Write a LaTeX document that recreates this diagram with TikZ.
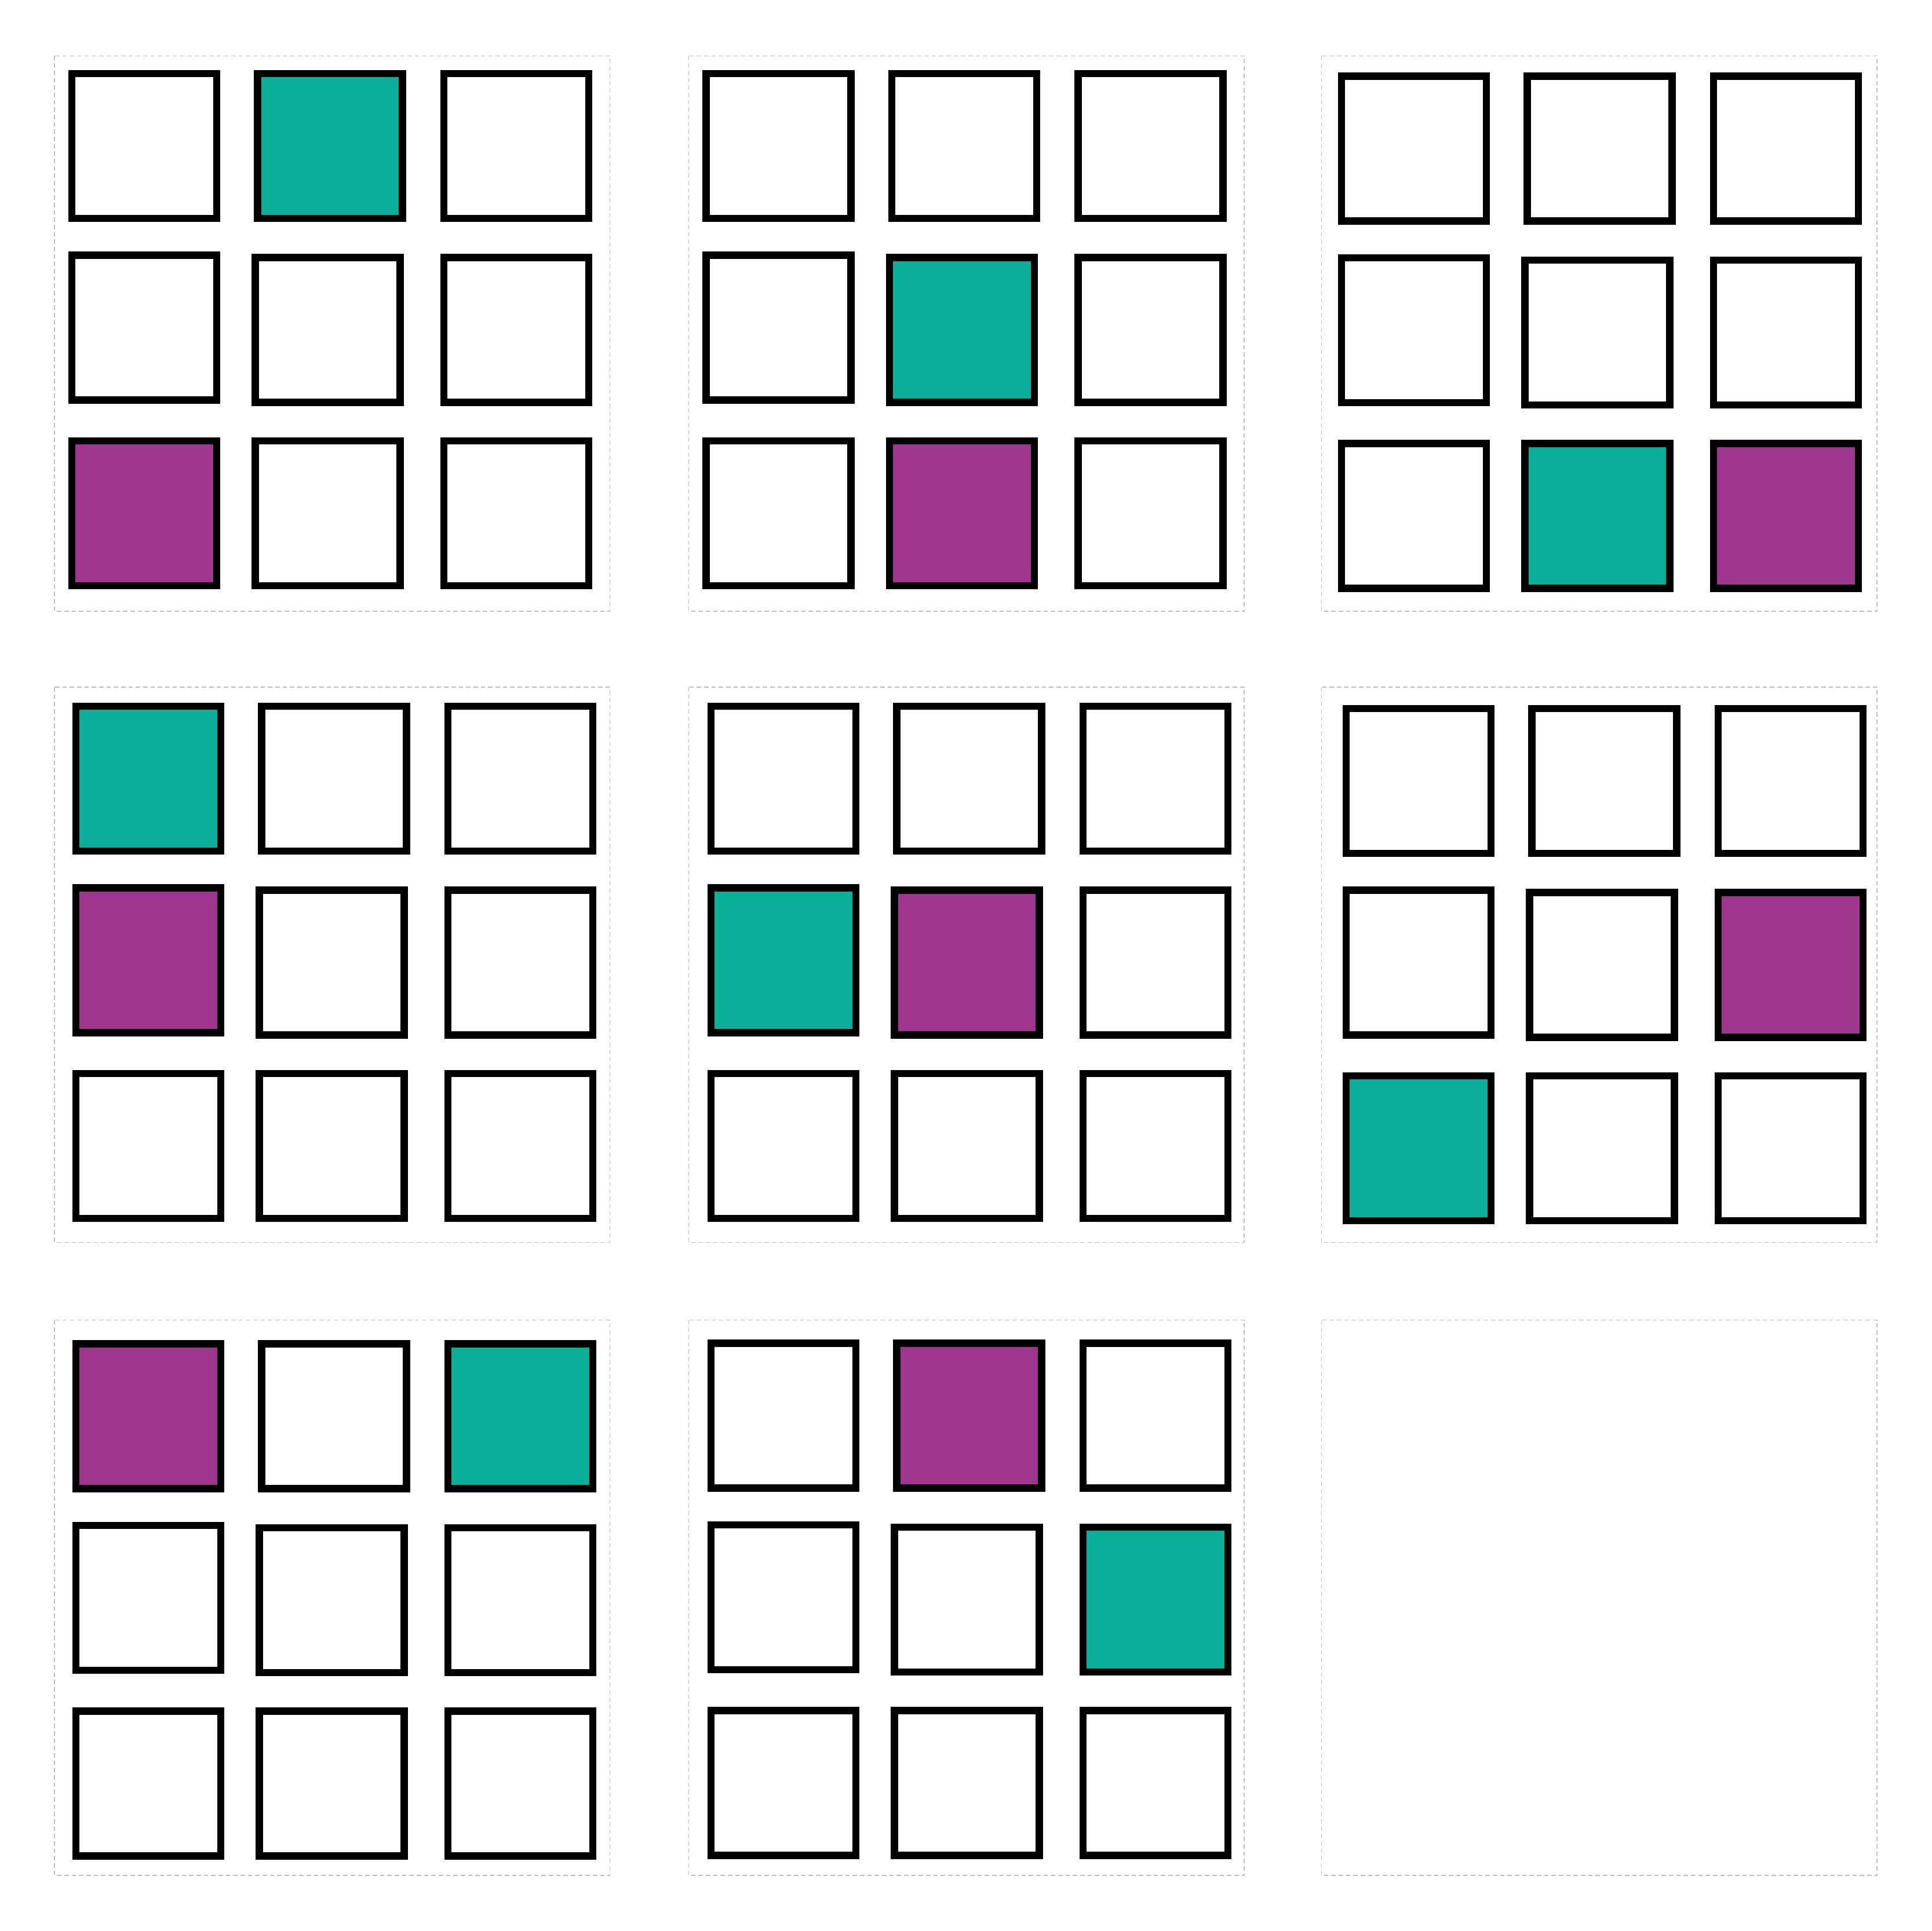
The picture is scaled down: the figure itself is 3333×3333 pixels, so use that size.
\documentclass[tikz,border=0pt]{standalone}
\usepackage{tikz}

\tikzset{every picture/.style={line width=0.75pt}}
\tikzset{
  panelbox/.style={color={rgb, 255:red, 190; green, 190; blue, 190 }, line width=1pt, dash pattern=on 5.75pt off 3.75pt},
  cell/.style={color={rgb, 255:red, 0; green, 0; blue, 0 }, line width=9.2pt},
  tealcell/.style={cell, fill={rgb, 255:red, 9; green, 175; blue, 152 }},
  plumcell/.style={cell, fill={rgb, 255:red, 158; green, 53; blue, 142 }}
}

\begin{document}
\begin{tikzpicture}[x=0.75pt,y=0.75pt,yscale=-1,xscale=1]
        %set diagram left start at 0, and has height of 3333
        \useasboundingbox (0,0) rectangle (3333,3333);

        %Shape: Rectangle [id:dp0412] 
        \draw  [panelbox] (94,96.5) rectangle ++(958.5,958.5) ;
        %Shape: Rectangle [id:dp0413] 
        \draw  [panelbox] (1188.5,96.5) rectangle ++(958.5,958.5) ;
        %Shape: Rectangle [id:dp0414] 
        \draw  [panelbox] (2280.5,96.5) rectangle ++(958.5,958.5) ;
        %Shape: Rectangle [id:dp0415] 
        \draw  [panelbox] (94,1186) rectangle ++(958.5,958.5) ;
        %Shape: Rectangle [id:dp0416] 
        \draw  [panelbox] (1188.5,1186) rectangle ++(958.5,958.5) ;
        %Shape: Rectangle [id:dp0417] 
        \draw  [panelbox] (2280.5,1186) rectangle ++(958.5,958.5) ;
        %Shape: Rectangle [id:dp0418] 
        \draw  [panelbox] (94,2278.5) rectangle ++(958.5,958.5) ;
        %Shape: Rectangle [id:dp0419] 
        \draw  [panelbox] (1188.5,2278.5) rectangle ++(958.5,958.5) ;
        %Shape: Rectangle [id:dp0420] 
        \draw  [panelbox] (2280.5,2278.5) rectangle ++(958.5,958.5) ;

        %Shape: Square [id:dp1101] 
        \draw  [cell] (124,127) rectangle ++(250,250) ;
        %Shape: Square [id:dp1102] 
        \draw  [tealcell] (444.5,127) rectangle ++(250,250) ;
        %Shape: Square [id:dp1103] 
        \draw  [cell] (766,127) rectangle ++(250,250) ;
        %Shape: Square [id:dp1104] 
        \draw  [cell] (124,440.5) rectangle ++(250,250) ;
        %Shape: Square [id:dp1105] 
        \draw  [cell] (440.5,444.5) rectangle ++(250,250) ;
        %Shape: Square [id:dp1106] 
        \draw  [cell] (766,444.5) rectangle ++(250,250) ;
        %Shape: Square [id:dp1107] 
        \draw  [plumcell] (124,761) rectangle ++(250,250) ;
        %Shape: Square [id:dp1108] 
        \draw  [cell] (440.5,761) rectangle ++(250,250) ;
        %Shape: Square [id:dp1109] 
        \draw  [cell] (766,761) rectangle ++(250,250) ;

        %Shape: Square [id:dp1201] 
        \draw  [cell] (1218.5,127) rectangle ++(250,250) ;
        %Shape: Square [id:dp1202] 
        \draw  [cell] (1539,127) rectangle ++(250,250) ;
        %Shape: Square [id:dp1203] 
        \draw  [cell] (1860.5,127) rectangle ++(250,250) ;
        %Shape: Square [id:dp1204] 
        \draw  [cell] (1218.5,440.5) rectangle ++(250,250) ;
        %Shape: Square [id:dp1205] 
        \draw  [tealcell] (1535,444.5) rectangle ++(250,250) ;
        %Shape: Square [id:dp1206] 
        \draw  [cell] (1860.5,444.5) rectangle ++(250,250) ;
        %Shape: Square [id:dp1207] 
        \draw  [cell] (1218.5,761) rectangle ++(250,250) ;
        %Shape: Square [id:dp1208] 
        \draw  [plumcell] (1535,761) rectangle ++(250,250) ;
        %Shape: Square [id:dp1209] 
        \draw  [cell] (1860.5,761) rectangle ++(250,250) ;

        %Shape: Square [id:dp1301] 
        \draw  [cell] (2315,131.5) rectangle ++(250,250) ;
        %Shape: Square [id:dp1302] 
        \draw  [cell] (2635.5,131.5) rectangle ++(250,250) ;
        %Shape: Square [id:dp1303] 
        \draw  [cell] (2957,131.5) rectangle ++(250,250) ;
        %Shape: Square [id:dp1304] 
        \draw  [cell] (2315,445) rectangle ++(250,250) ;
        %Shape: Square [id:dp1305] 
        \draw  [cell] (2631.5,449) rectangle ++(250,250) ;
        %Shape: Square [id:dp1306] 
        \draw  [cell] (2957,449) rectangle ++(250,250) ;
        %Shape: Square [id:dp1307] 
        \draw  [cell] (2315,765.5) rectangle ++(250,250) ;
        %Shape: Square [id:dp1308] 
        \draw  [tealcell] (2631.5,765.5) rectangle ++(250,250) ;
        %Shape: Square [id:dp1309] 
        \draw  [plumcell] (2957,765.5) rectangle ++(250,250) ;

        %Shape: Square [id:dp2101] 
        \draw  [tealcell] (131,1219) rectangle ++(250,250) ;
        %Shape: Square [id:dp2102] 
        \draw  [cell] (451.5,1219) rectangle ++(250,250) ;
        %Shape: Square [id:dp2103] 
        \draw  [cell] (773,1219) rectangle ++(250,250) ;
        %Shape: Square [id:dp2104] 
        \draw  [plumcell] (131,1532.5) rectangle ++(250,250) ;
        %Shape: Square [id:dp2105] 
        \draw  [cell] (447.5,1536.5) rectangle ++(250,250) ;
        %Shape: Square [id:dp2106] 
        \draw  [cell] (773,1536.5) rectangle ++(250,250) ;
        %Shape: Square [id:dp2107] 
        \draw  [cell] (131,1853) rectangle ++(250,250) ;
        %Shape: Square [id:dp2108] 
        \draw  [cell] (447.5,1853) rectangle ++(250,250) ;
        %Shape: Square [id:dp2109] 
        \draw  [cell] (773,1853) rectangle ++(250,250) ;

        %Shape: Square [id:dp2201] 
        \draw  [cell] (1227,1219) rectangle ++(250,250) ;
        %Shape: Square [id:dp2202] 
        \draw  [cell] (1547.5,1219) rectangle ++(250,250) ;
        %Shape: Square [id:dp2203] 
        \draw  [cell] (1869,1219) rectangle ++(250,250) ;
        %Shape: Square [id:dp2204] 
        \draw  [tealcell] (1227,1532.5) rectangle ++(250,250) ;
        %Shape: Square [id:dp2205] 
        \draw  [plumcell] (1543.5,1536.5) rectangle ++(250,250) ;
        %Shape: Square [id:dp2206] 
        \draw  [cell] (1869,1536.5) rectangle ++(250,250) ;
        %Shape: Square [id:dp2207] 
        \draw  [cell] (1227,1853) rectangle ++(250,250) ;
        %Shape: Square [id:dp2208] 
        \draw  [cell] (1543.5,1853) rectangle ++(250,250) ;
        %Shape: Square [id:dp2209] 
        \draw  [cell] (1869,1853) rectangle ++(250,250) ;

        %Shape: Square [id:dp2301] 
        \draw  [cell] (2323,1223) rectangle ++(250,250) ;
        %Shape: Square [id:dp2302] 
        \draw  [cell] (2643.5,1223) rectangle ++(250,250) ;
        %Shape: Square [id:dp2303] 
        \draw  [cell] (2965,1223) rectangle ++(250,250) ;
        %Shape: Square [id:dp2304] 
        \draw  [cell] (2323,1536.5) rectangle ++(250,250) ;
        %Shape: Square [id:dp2305] 
        \draw  [cell] (2639.5,1540.5) rectangle ++(250,250) ;
        %Shape: Square [id:dp2306] 
        \draw  [plumcell] (2965,1540.5) rectangle ++(250,250) ;
        %Shape: Square [id:dp2307] 
        \draw  [tealcell] (2323,1857) rectangle ++(250,250) ;
        %Shape: Square [id:dp2308] 
        \draw  [cell] (2639.5,1857) rectangle ++(250,250) ;
        %Shape: Square [id:dp2309] 
        \draw  [cell] (2965,1857) rectangle ++(250,250) ;

        %Shape: Square [id:dp3101] 
        \draw  [plumcell] (131,2319.5) rectangle ++(250,250) ;
        %Shape: Square [id:dp3102] 
        \draw  [cell] (451.5,2319.5) rectangle ++(250,250) ;
        %Shape: Square [id:dp3103] 
        \draw  [tealcell] (773,2319.5) rectangle ++(250,250) ;
        %Shape: Square [id:dp3104] 
        \draw  [cell] (131,2633) rectangle ++(250,250) ;
        %Shape: Square [id:dp3105] 
        \draw  [cell] (447.5,2637) rectangle ++(250,250) ;
        %Shape: Square [id:dp3106] 
        \draw  [cell] (773,2637) rectangle ++(250,250) ;
        %Shape: Square [id:dp3107] 
        \draw  [cell] (131,2953.5) rectangle ++(250,250) ;
        %Shape: Square [id:dp3108] 
        \draw  [cell] (447.5,2953.5) rectangle ++(250,250) ;
        %Shape: Square [id:dp3109] 
        \draw  [cell] (773,2953.5) rectangle ++(250,250) ;

        %Shape: Square [id:dp3201] 
        \draw  [cell] (1227,2318.5) rectangle ++(250,250) ;
        %Shape: Square [id:dp3202] 
        \draw  [plumcell] (1547.5,2318.5) rectangle ++(250,250) ;
        %Shape: Square [id:dp3203] 
        \draw  [cell] (1869,2318.5) rectangle ++(250,250) ;
        %Shape: Square [id:dp3204] 
        \draw  [cell] (1227,2632) rectangle ++(250,250) ;
        %Shape: Square [id:dp3205] 
        \draw  [cell] (1543.5,2636) rectangle ++(250,250) ;
        %Shape: Square [id:dp3206] 
        \draw  [tealcell] (1869,2636) rectangle ++(250,250) ;
        %Shape: Square [id:dp3207] 
        \draw  [cell] (1227,2952.5) rectangle ++(250,250) ;
        %Shape: Square [id:dp3208] 
        \draw  [cell] (1543.5,2952.5) rectangle ++(250,250) ;
        %Shape: Square [id:dp3209] 
        \draw  [cell] (1869,2952.5) rectangle ++(250,250) ;

\end{tikzpicture}
\end{document}
